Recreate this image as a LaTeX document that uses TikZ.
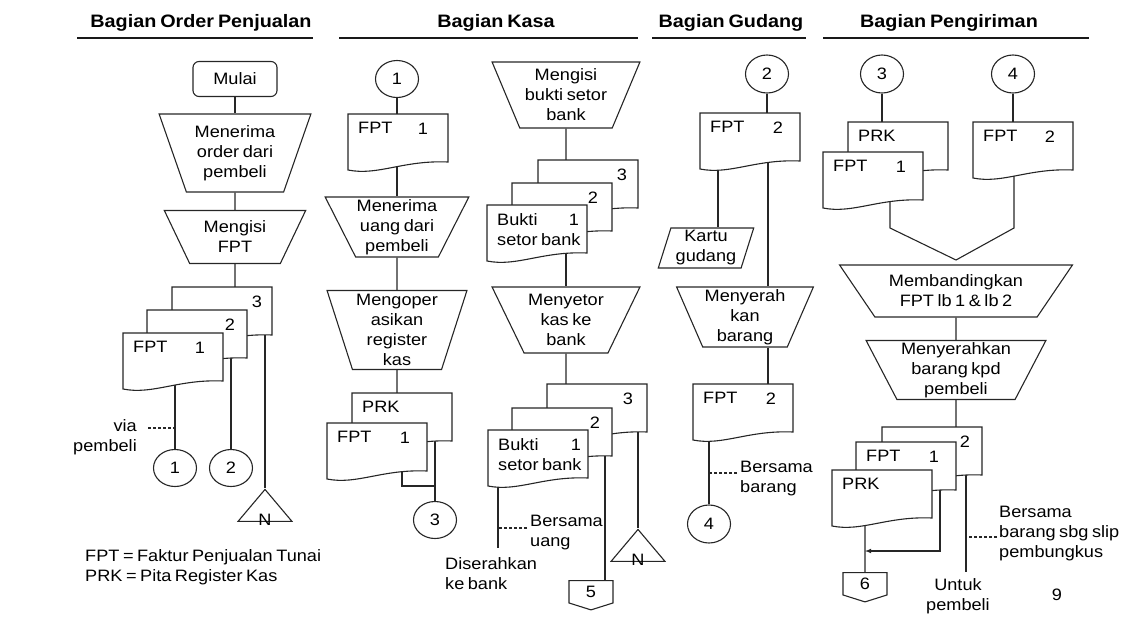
\documentclass[tikz,border=0pt]{standalone}
\usepackage{fontspec}
\setmainfont[FakeStretch=1.1,WordSpace=0.7]{Liberation Sans}
\usetikzlibrary{shapes.geometric, shapes.symbols, arrows, backgrounds, positioning}
\tikzset{%
  flow/.style={line width=1.1pt, draw=black!85},
  dashline/.style={flow, dash pattern=on 3pt off 2pt},
  headline/.style={line width=2.2pt, draw=black!90},
  header/.style={font=\fontsize{18}{22}\selectfont\bfseries, inner sep=0pt},
  terminal/.style={draw=black!85, line width=1.1pt, rectangle, rounded corners=6pt,
    minimum width=84pt, minimum height=35pt},
  manual/.style={draw=black!85, line width=1.1pt, trapezium, shape border rotate=180,
    trapezium stretches=true, align=center, inner sep=1pt},
  inputbox/.style={draw=black!85, line width=1.1pt, trapezium, trapezium left angle=73,
    trapezium right angle=107, trapezium stretches=true, align=center, inner sep=1pt},
  conn/.style={draw=black!85, line width=1.1pt, ellipse, inner sep=0pt,
    minimum width=43pt, minimum height=37pt},
  offpage/.style={draw=black!85, line width=1.1pt, signal, signal to=south, signal from=nowhere,
    signal pointer angle=145, minimum width=44pt, minimum height=24pt, inner sep=0pt},
  filetri/.style={draw=black!85, line width=1.1pt, isosceles triangle, isosceles triangle stretches,
    shape border rotate=90, minimum width=54pt, minimum height=32pt, inner sep=0pt},
  docline/.style={line width=1.1pt, draw=black!85, fill=white},
  docarea/.style={minimum width=100pt, minimum height=56pt, inner sep=0pt},
  doctext/.style={inner sep=0pt, align=left},
  textnote/.style={inner sep=0pt, align=left}
}

\newcommand{\docu}[6][22]{%
  \path[docline] (#3,#4) -- ++(100,0) -- ++(0,48) .. controls +(-45,-2) and +(30,6) .. (#3,{#4+56}) -- cycle;
  \node[docarea] (#2) at ({#3+50},{#4+28}) {};
  \node[doctext, anchor=north west] (#2-l) at ({#3+10},{#4+8}) {#5};
  \node[doctext] (#2-r) at ({#3+100-#1},{#4+15}) {#6};
}

\begin{document}
\begin{tikzpicture}[x=1pt, y=-1pt, every node/.style={font=\fontsize{16.5}{20}\selectfont}]
  \useasboundingbox (0,0) rectangle (1122,616);

  \node[header, anchor=base] (hOrder) at (201,27) {Bagian Order Penjualan};
  \node[header, anchor=base] (hKasa) at (496,27) {Bagian Kasa};
  \node[header, anchor=base] (hGudang) at (731,27) {Bagian Gudang};
  \node[header, anchor=base] (hKirim) at (949,27) {Bagian Pengiriman};
  \draw[headline] (77,38) -- (313,38);
  \draw[headline] (339,38) -- (638,38);
  \draw[headline] (652,38) -- (806,38);
  \draw[headline] (823,38) -- (1089,38);

  % bagian order penjualan
  \node[terminal] (mulai) at (235,79) {Mulai};
  \node[manual, trapezium angle=68, minimum width=152pt, minimum height=78pt] (terimaOrder) at (235,153) {Menerima\\order dari\\pembeli};
  \node[manual, trapezium angle=62, minimum width=142pt, minimum height=53pt] (isiFPT) at (235,237) {Mengisi\\FPT};
  \docu[15]{fptC}{172}{287}{}{3}
  \docu[17]{fptB}{147}{310}{}{2}
  \docu[23]{fptA}{123}{333}{FPT}{1}
  \node[conn] (kA1) at (175,468) {1};
  \node[conn] (kA2) at (231,468) {2};
  \node[filetri, anchor=apex] (arsipA) at (265,488) {};
  \node[inner sep=0pt] (arsipAn) at ([yshift=2pt]arsipA.lower side) {N};
  \node[textnote, align=right, anchor=east, inner xsep=11pt] (viaNote) at (148,437) {via\\pembeli};
  \coordinate (viaTip) at (175,428);
  \node[textnote, anchor=west] (legend) at (85,567) {FPT = Faktur Penjualan Tunai\\PRK = Pita Register Kas};

  % bagian kasa
  \node[conn] (kB1) at (397,79) {1};
  \docu[25]{fptK}{348}{114}{FPT}{1}
  \node[manual, trapezium angle=62, minimum width=144pt, minimum height=60pt] (terimaUang) at (397,227) {Menerima\\uang dari\\pembeli};
  \node[manual, trapezium angle=72, minimum width=140pt, minimum height=79pt] (operKas) at (397,330) {Mengoper\\asikan\\register\\kas};
  \docu{prkK}{352}{393}{PRK}{}
  \docu{fptK2}{327}{423}{FPT}{1}
  \node[conn] (kB3) at (435,520) {3};
  \coordinate (joinK) at (435,486);

  \node[manual, trapezium angle=65, minimum width=148pt, minimum height=66pt] (isiBukti) at (566,95) {Mengisi\\bukti setor\\bank};
  \docu[16]{bktC}{538}{160}{}{3}
  \docu[19]{bktB}{512}{183}{}{2}
  \docu[13]{bktA}{487}{205}{Bukti\\setor bank}{1}
  \node[manual, trapezium angle=61, minimum width=148pt, minimum height=66pt] (setorKas) at (566,320) {Menyetor\\kas ke\\bank};
  \docu[19]{bsC}{547}{384}{}{3}
  \docu[17]{bsB}{512}{408}{}{2}
  \docu[12]{bsA}{488}{430}{Bukti\\setor bank}{1}
  \coordinate (bankEnd) at (498,548);
  \node[textnote, anchor=north west] (serahNote) at (445,557) {Diserahkan\\ke bank};
  \node[textnote, anchor=west, inner xsep=3pt] (uangNote) at (527,533) {Bersama\\uang};
  \coordinate (uangTip) at (498,528);
  \node[offpage, anchor=north] (off5) at (591,580) {5};
  \coordinate (off5In) at ([xshift=14pt]off5.north);
  \node[filetri, anchor=apex] (arsipB) at (638,528) {};
  \node[inner sep=0pt] (arsipBn) at ([yshift=2pt]arsipB.lower side) {N};

  % bagian gudang
  \node[conn, minimum height=38pt] (kC2) at (767,74) {2};
  \docu{fptG}{700}{113}{FPT}{2}
  \node[inputbox, minimum width=96pt, minimum height=40pt] (kartu) at (706,248) {Kartu\\gudang};
  \coordinate (kartuIn) at ([xshift=12pt]kartu.north);
  \node[manual, trapezium angle=66, minimum width=137pt, minimum height=60pt] (serahBarang) at (745,317) {Menyerah\\kan\\barang};
  \coordinate (serahIn) at ([xshift=23pt]serahBarang.north);
  \coordinate (serahOut) at ([xshift=23pt]serahBarang.south);
  \docu{fptG2}{693}{384}{FPT}{2}
  \node[conn, minimum height=38pt] (kC4) at (709,524) {4};
  \coordinate (barangTip) at (709,473);
  \node[textnote, anchor=west, inner xsep=3pt] (barangNote) at (737,479) {Bersama\\barang};

  % bagian pengiriman
  \node[conn, minimum height=38pt] (kD3) at (882,74) {3};
  \node[conn, minimum height=38pt] (kD4) at (1013,74) {4};
  \docu{prkS}{848}{122}{PRK}{}
  \docu{fptS}{823}{152}{FPT}{1}
  \docu[23]{fptS2}{973}{122}{FPT}{2}
  \coordinate (vL) at (890,228);
  \coordinate (vR) at (1014,228);
  \coordinate (vM) at (956,260);
  \node[manual, trapezium angle=49, minimum width=233pt, minimum height=52pt] (banding) at (956,291) {Membandingkan\\FPT lb 1 \& lb 2};
  \node[manual, trapezium angle=63, minimum width=180pt, minimum height=59pt] (serahPembeli) at (956,370) {Menyerahkan\\barang kpd\\pembeli};
  \docu[17]{kirB}{882}{427}{}{2}
  \docu{kirF}{856}{442}{FPT}{1}
  \docu{kirP}{832}{470}{PRK}{}
  \node[offpage, anchor=north] (off6) at (865,572) {6};
  \coordinate (arrTip) at (865,551);
  \coordinate (untukEnd) at (966,572);
  \node[textnote, align=center, anchor=north] (untukNote) at (958,578) {Untuk\\pembeli};
  \coordinate (slipTip) at (966,537);
  \node[textnote, anchor=west, inner xsep=2pt] (slipNote) at (997,534) {Bersama\\barang sbg slip\\pembungkus};
  \node (hal) at (1057,595) {9};

  \begin{scope}[on background layer]
    \draw[flow] (mulai) -- (terimaOrder);
    \draw[flow] (terimaOrder) -- (isiFPT);
    \draw[flow] (isiFPT) -- (isiFPT |- fptC.north);
    \draw[flow] (kA1 |- fptA.center) -- (kA1);
    \draw[flow] (kA2 |- fptB.center) -- (kA2);
    \draw[flow] (arsipA.apex |- fptC.center) -- (arsipA.apex);
    \draw[dashline] (viaNote.east |- viaTip) -- (viaTip);

    \draw[flow] (kB1) -- (kB1 |- fptK.north);
    \draw[flow] (terimaUang |- fptK.center) -- (terimaUang);
    \draw[flow] (terimaUang) -- (operKas);
    \draw[flow] (operKas) -- (operKas |- prkK.north);
    \draw[flow] (kB3 |- prkK.center) -- (kB3);
    \draw[flow] ([xshift=25pt]fptK2.center) |- (joinK);

    \draw[flow] (isiBukti) -- (isiBukti |- bktC.north);
    \draw[flow] (setorKas |- bktA.center) -- (setorKas);
    \draw[flow] (setorKas) -- (setorKas |- bsC.north);
    \draw[flow] (bankEnd |- bsA.center) -- (bankEnd);
    \draw[dashline] (uangNote.west |- uangTip) -- (uangTip);
    \draw[flow] (off5In |- bsB.center) -- (off5In);
    \draw[flow] (arsipB.apex |- bsC.center) -- (arsipB.apex);

    \draw[flow] (kC2) -- (kC2 |- fptG.north);
    \draw[flow] (kartuIn |- fptG.center) -- (kartuIn);
    \draw[flow] (serahIn |- fptG.center) -- (serahIn);
    \draw[flow] (serahOut) -- (serahOut |- fptG2.north);
    \draw[flow] (kC4 |- fptG2.center) -- (kC4);
    \draw[dashline] (barangNote.west |- barangTip) -- (barangTip);

    \draw[flow] (kD3) -- (kD3 |- prkS.north);
    \draw[flow] (kD4) -- (kD4 |- fptS2.north);
    \draw[flow] (vL |- fptS.center) -- (vL) -- (vM) -- (vR) -- (vR |- fptS2.center);
    \draw[flow] (banding) -- (serahPembeli);
    \draw[flow] (serahPembeli) -- (serahPembeli |- kirB.north);
    \draw[flow] (off6 |- kirP.center) -- (off6);
    \draw[flow, -latex] ([xshift=34pt]kirF.center) |- (arrTip);
    \draw[flow] (untukEnd |- kirB.center) -- (untukEnd);
    \draw[dashline] (slipNote.west |- slipTip) -- (slipTip);
  \end{scope}
\end{tikzpicture}
\end{document}
